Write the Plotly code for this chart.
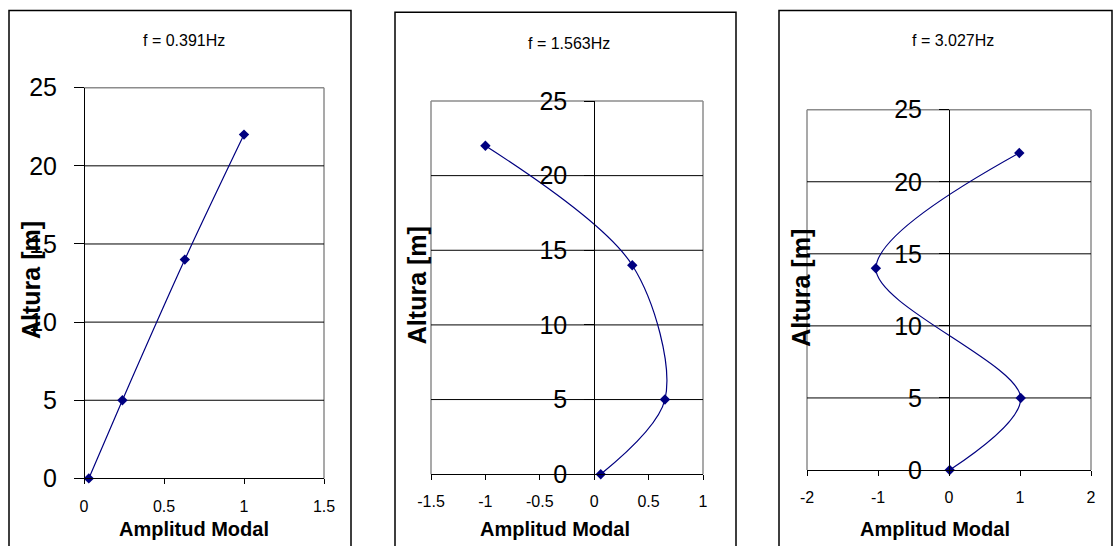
import plotly.graph_objects as go

W, H = 1113, 546

# ---- data ----
heights = [0, 5, 14, 22]
amp_1 = [0.03, 0.24, 0.63, 1.0]
amp_2 = [0.06, 0.65, 0.35, -1.0]
amp_3 = [0.01, 1.01, -1.03, 0.99]
titles = ["f = 0.391Hz", "f = 1.563Hz", "f = 3.027Hz"]

x_ranges = [[0, 1.5], [-1.5, 1], [-2, 2]]
x_tickvals = [[0, 0.5, 1, 1.5], [-1.5, -1, -0.5, 0, 0.5, 1], [-2, -1, 0, 1, 2]]
x_ticktext = [["0", "0.5", "1", "1.5"], ["-1.5", "-1", "-0.5", "0", "0.5", "1"],
              ["-2", "-1", "0", "1", "2"]]
y_tickvals = [0, 5, 10, 15, 20, 25]
y_ticktext = ["0", "5", "10", "15", "20", "25"]
grid_y = [5, 10, 15, 20]
y_range = [0, 25]

# ---- layout geometry (pixels) ----
def px(x):
    return x / W

def py(y):
    return 1 - y / H

plot_areas = [  # x0, x1, ytop, ybottom
    (84, 324, 87.7, 478.4),
    (431, 703, 101, 474.2),
    (807, 1091, 109.7, 470),
]
outer = [(9, 351, 10.4), (395, 736, 12.2), (779, 1112, 10.4)]
title_pos = [(183.7, 40.7), (568.8, 43.5), (952.8, 40.7)]
xtitle_pos = [(193.5, 529), (555, 529), (935, 529)]
ytitle_pos = [(31, 280), (416.7, 285.5), (800.8, 288)]

NAVY = "#000080"
FONT = "Liberation Sans, Arial, sans-serif"

fig = go.Figure()
amps = [amp_1, amp_2, amp_3]
shapes = []
annotations = []

for i in range(3):
    n = "" if i == 0 else str(i + 1)
    xa, ya = "x" + n, "y" + n
    x0, x1, yt, yb = plot_areas[i]
    dx = [px(x0), px(x1)]
    dy = [py(yb), py(yt)]
    r0, r1 = x_ranges[i]
    ypos = dx[0] + (0 - r0) / (r1 - r0) * (dx[1] - dx[0])

    fig.add_trace(go.Scatter(
        x=amps[i], y=heights, xaxis=xa, yaxis=ya, mode="lines+markers",
        line=dict(color=NAVY, width=1.2, shape="spline", smoothing=0.9),
        marker=dict(symbol="diamond", size=8, color=NAVY),
        showlegend=False, cliponaxis=False, hoverinfo="skip",
    ))

    fig.layout["xaxis" + n] = dict(
        domain=dx, range=x_ranges[i], anchor=ya, automargin=False,
        tickvals=x_tickvals[i], ticktext=x_ticktext[i],
        showline=True, linecolor="black", linewidth=1,
        ticks="outside", ticklen=5, tickcolor="black", tickwidth=1,
        showgrid=False, zeroline=False,
        tickfont=dict(family=FONT, size=16, color="black"),
        ticklabelstandoff=8,
    )
    fig.layout["yaxis" + n] = dict(
        domain=dy, range=y_range, anchor="free", position=ypos, automargin=False,
        tickvals=y_tickvals, ticktext=y_ticktext,
        showline=True, linecolor="black", linewidth=1,
        ticks="outside", ticklen=10, tickcolor="black", tickwidth=1,
        showgrid=False, zeroline=False,
        tickfont=dict(family=FONT, size=25, color="black"),
        ticklabelstandoff=12,
    )

    gray = dict(color="#8c8c8c", width=1.5)
    shapes.append(dict(type="line", xref=xa + " domain", yref=ya + " domain",
                       x0=0, x1=1, y0=1, y1=1, line=gray, layer="below"))
    shapes.append(dict(type="line", xref=xa + " domain", yref=ya + " domain",
                       x0=1, x1=1, y0=0, y1=1, line=gray, layer="below"))
    if i > 0:
        shapes.append(dict(type="line", xref=xa + " domain", yref=ya + " domain",
                           x0=0, x1=0, y0=0, y1=1, line=gray, layer="below"))
    for g in grid_y:
        shapes.append(dict(type="line", xref=xa + " domain", yref=ya,
                           x0=0, x1=1, y0=g, y1=g,
                           line=dict(color="black", width=1), layer="below"))
    ox0, ox1, oyt = outer[i]
    shapes.append(dict(type="rect", xref="paper", yref="paper",
                       x0=px(ox0), x1=px(ox1), y0=-0.2, y1=py(oyt),
                       line=dict(color="black", width=1.5), layer="below"))

    annotations.append(dict(text=titles[i], xref="paper", yref="paper",
                            x=px(title_pos[i][0]), y=py(title_pos[i][1]),
                            showarrow=False, xanchor="center", yanchor="middle",
                            font=dict(family=FONT, size=16, color="black")))
    annotations.append(dict(text="<b>Amplitud Modal</b>", xref="paper", yref="paper",
                            x=px(xtitle_pos[i][0]), y=py(xtitle_pos[i][1]),
                            showarrow=False, xanchor="center", yanchor="middle",
                            font=dict(family=FONT, size=20, color="black")))
    annotations.append(dict(text="<b>Altura [m]</b>", xref="paper", yref="paper",
                            x=px(ytitle_pos[i][0]), y=py(ytitle_pos[i][1]),
                            showarrow=False, xanchor="center", yanchor="middle",
                            textangle=-90,
                            font=dict(family=FONT, size=25, color="black")))

fig.update_layout(
    template="none",
    width=W, height=H, margin=dict(l=0, r=0, t=0, b=0, autoexpand=False),
    paper_bgcolor="white", plot_bgcolor="rgba(0,0,0,0)",
    shapes=shapes, annotations=annotations, showlegend=False,
)

fig.write_html("out.html", config={"displayModeBar": False},
               post_script="document.body.style.margin='0';document.body.style.overflow='hidden';")
